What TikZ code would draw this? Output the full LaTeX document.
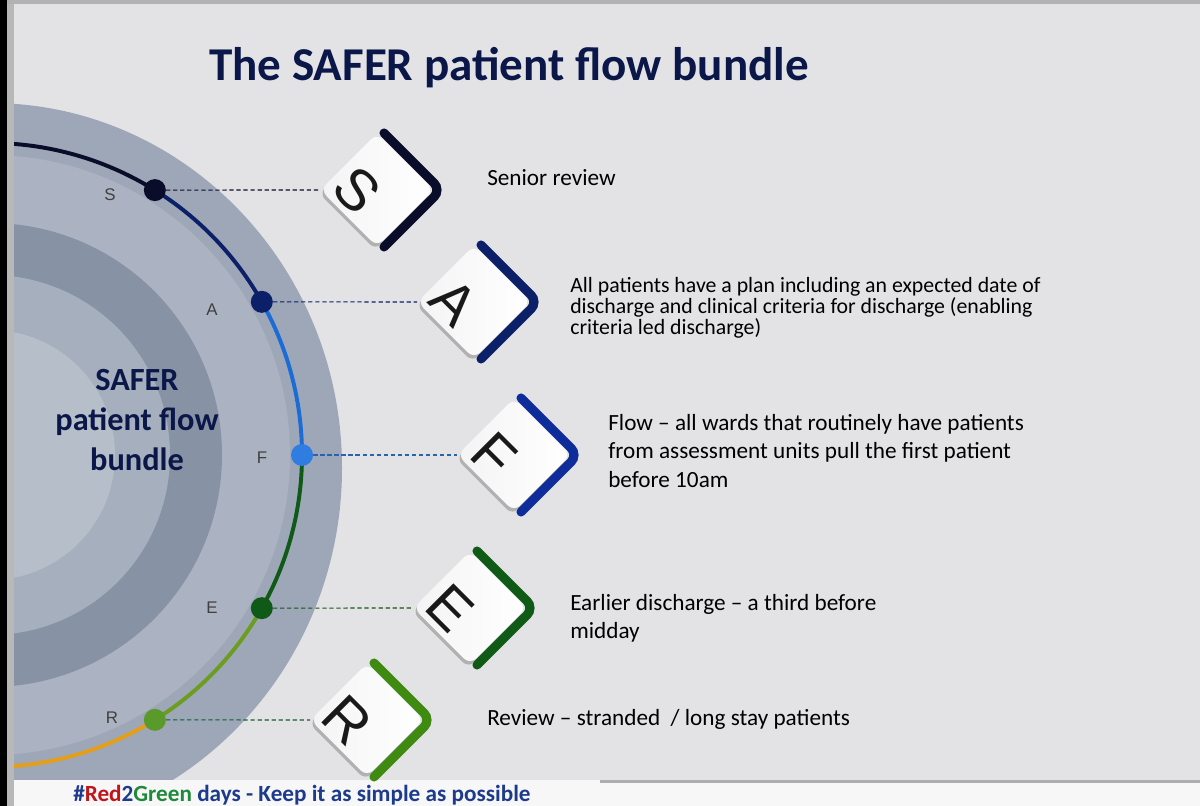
\documentclass[tikz,border=0pt]{standalone}
\usepackage{fontspec}
\setmainfont{Carlito}
\newfontfamily\keyfont{Liberation Sans}
\usepackage{xcolor}
\usetikzlibrary{shadows}
\definecolor{SaferBg}{HTML}{E3E3E6}
\definecolor{SaferTitle}{HTML}{0A1748}
\definecolor{SaferHash}{HTML}{1D3B8C}
\definecolor{SaferRed}{HTML}{C0161B}
\definecolor{SaferGreen}{HTML}{1E8A3A}
\definecolor{DiscOut}{HTML}{9EA7B8}
\definecolor{DiscBand}{HTML}{ABB3C2}
\definecolor{DiscDark}{HTML}{8892A5}
\definecolor{DiscIn}{HTML}{A6AFBE}
\definecolor{DiscCore}{HTML}{B6BECA}
\definecolor{ArcS}{HTML}{0A0D2A}
\definecolor{ArcA}{HTML}{0B2068}
\definecolor{ArcF}{HTML}{1C6CD6}
\definecolor{ArcE}{HTML}{0F5A16}
\definecolor{ArcR}{HTML}{6C9C20}
\definecolor{ArcEnd}{HTML}{E39E1A}
\definecolor{DotF}{HTML}{2F7DE0}
\definecolor{DotR}{HTML}{5A9A2A}
\definecolor{ChevF}{HTML}{0E2C9A}
\definecolor{ChevR}{HTML}{3F8A10}

\begin{document}
\begin{tikzpicture}[x=0.025cm,y=0.025cm,
  key/.style={rectangle,rotate=-45,minimum size=2cm,inner sep=0pt,
    rounded corners=6pt,left color=SaferBg!40!white,right color=white,
    drop shadow={shadow xshift=-1pt,shadow yshift=-2.5pt,opacity=0.5}},
  keyltr/.style={rotate=-45,inner sep=0pt,text=black!90,
    font=\keyfont\fontsize{41}{41}\selectfont},
  chev/.style={line width=6.5pt,rounded corners=7pt,line cap=round},
  dot/.style={circle,minimum size=0.55cm,inner sep=0pt},
  ring/.style={line width=2.8pt},
  link/.style={line width=0.8pt,densely dashed},
  ltr/.style={text=black!75,font=\keyfont\fontsize{12}{12}\selectfont},
  desc/.style={anchor=west,align=left,inner sep=0pt,text=black,
    font=\fontsize{16.5}{20}\selectfont}]
  \useasboundingbox (0,0) rectangle (1200,806);
  \fill[SaferBg] (0,0) rectangle (1200,806);
  \fill[black!30] (0,802) rectangle (1200,806);
  \fill[black] (0,0) rectangle (7,806);
  \fill[black!28] (7,0) rectangle (14,802);
  \coordinate (O) at (-10,351);
  % disc with rings and coloured arc
  \begin{scope}
    \clip (14,26) rectangle (1200,802);
    \fill[DiscOut] (-10,338) ellipse [x radius=352,y radius=365];
    \fill[DiscBand] (O) circle [radius=300];
    \fill[DiscDark] (O) circle [radius=232];
    \fill[DiscIn] (O) circle [radius=180];
    \fill[DiscCore] (O) circle [radius=125];
    \draw[ring,ArcS] ([shift={(92:312)}]O) arc[start angle=92,end angle=58.1,radius=312];
    \draw[ring,ArcA] ([shift={(58.1:312)}]O) arc[start angle=58.1,end angle=29.4,radius=312];
    \draw[ring,ArcF] ([shift={(29.4:312)}]O) arc[start angle=29.4,end angle=0,radius=312];
    \draw[ring,ArcE] (O) ++(0:312) arc[start angle=0,end angle=-29.4,radius=312];
    \draw[ring,ArcR] ([shift={(-29.4:312)}]O) arc[start angle=-29.4,end angle=-58.1,radius=312];
    \draw[ring,ArcEnd] ([shift={(-58.1:312)}]O) arc[start angle=-58.1,end angle=-92,radius=312];
  \end{scope}
  \fill[white!70!SaferBg] (14,0) rectangle (1200,26);
  \fill[black!32] (600,23) rectangle (1200,26);

  \node[font=\fontsize{33.5}{38}\selectfont\bfseries,text=SaferTitle] (title)
    at (509,738) {The SAFER patient flow bundle};
  \node[align=center,font=\fontsize{23}{28.5}\selectfont\bfseries,text=SaferTitle]
    (hub) at (137,386) {SAFER\\patient flow\\bundle};

  \node[dot,fill=ArcS] (dS) at ([shift={(58.1:312)}]O) {};
  \node[dot,fill=ArcA] (dA) at ([shift={(29.4:312)}]O) {};
  \node[dot,fill=DotF] (dF) at ([shift={(0:312)}]O) {};
  \node[dot,fill=ArcE] (dE) at ([shift={(-29.4:312)}]O) {};
  \node[dot,fill=DotR] (dR) at ([shift={(-58.1:312)}]O) {};
  \node[ltr] (sS) at (110,611) {S};
  \node[ltr] (sA) at (212,496) {A};
  \node[ltr] (sF) at (262,348) {F};
  \node[ltr] (sE) at (212,198) {E};
  \node[ltr] (sR) at (112,88) {R};

  % keys
  \node[key] (kS) at (377,616) {};
  \node[key] (kA) at (474,504) {};
  \node[key] (kF) at (514,351) {};
  \node[key] (kE) at (470,198) {};
  \node[key] (kR) at (367,86) {};
  \draw[chev,ArcS] ([xshift=5pt]kS.north west) -- ([xshift=5pt]kS.north east) -- ([xshift=5pt]kS.south east);
  \draw[chev,ArcA] ([xshift=5pt]kA.north west) -- ([xshift=5pt]kA.north east) -- ([xshift=5pt]kA.south east);
  \draw[chev,ChevF] ([xshift=5pt]kF.north west) -- ([xshift=5pt]kF.north east) -- ([xshift=5pt]kF.south east);
  \draw[chev,ArcE] ([xshift=5pt]kE.north west) -- ([xshift=5pt]kE.north east) -- ([xshift=5pt]kE.south east);
  \draw[chev,ChevR] ([xshift=5pt]kR.north west) -- ([xshift=5pt]kR.north east) -- ([xshift=5pt]kR.south east);
  \node[keyltr] (lS) at ([xshift=-14pt]kS.center) {S};
  \node[keyltr] (lA) at ([xshift=-14pt]kA.center) {A};
  \node[keyltr] (lF) at ([xshift=-14pt]kF.center) {F};
  \node[keyltr] (lE) at ([xshift=-14pt]kE.center) {E};
  \node[keyltr] (lR) at ([xshift=-14pt]kR.center) {R};

  \draw[link,ArcS] (dS) -- (kS.south west);
  \draw[link,ArcA] (dA) -- (kA.south west);
  \draw[link,DotF!80!black] (dF) -- (kF.south west);
  \draw[link,ArcE] (dE) -- (kE.south west);
  \draw[link,ArcE!80!teal] (dR) -- (kR.south west);

  \node[desc] (tS) at (487,628) {Senior review};
  \node[desc,font=\fontsize{15.5}{15}\selectfont] (tA) at (570,498)
    {All patients have a plan including an expected date of\\
     discharge and clinical criteria for discharge (enabling\\
     criteria led discharge)};
  \node[desc] (tF) at (608,355) {Flow -- all wards that routinely have patients\\
    from assessment units pull the first patient\\before 10am};
  \node[desc] (tE) at (570,188) {Earlier discharge -- a third before\\midday};
  \node[desc] (tR) at (487,87) {Review -- stranded~~/ long stay patients};

  \node[anchor=base west,inner sep=0pt,text=SaferHash,
    font=\fontsize{16.5}{16.5}\selectfont\bfseries] (tag) at (73,4)
    {\#\textcolor{SaferRed}{Red}2\textcolor{SaferGreen}{Green} days - Keep it as simple as possible};
\end{tikzpicture}
\end{document}
